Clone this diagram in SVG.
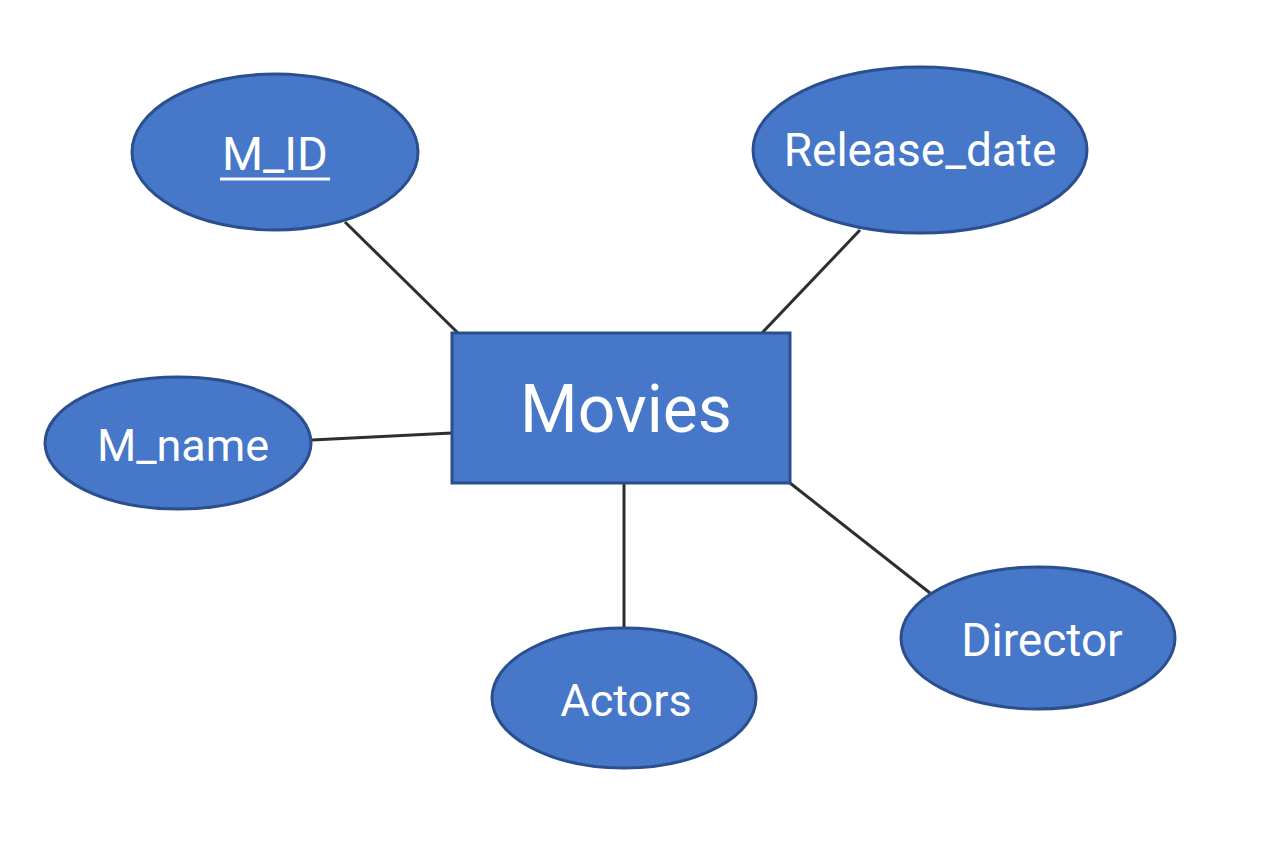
<svg xmlns="http://www.w3.org/2000/svg" width="1280" height="853" viewBox="0 0 1280 853">
<style>
.shape{fill:#4677c8;stroke:#2b4f8e;stroke-width:3}
.lbl{fill:#ffffff;font-family:Roboto,"Noto Sans",sans-serif;text-anchor:middle}
.conn line{stroke:#2a302c;stroke-width:3}
</style>
<rect width="1280" height="853" fill="#ffffff"/>
<g class="conn" id="connectors">
<line x1="345" y1="222" x2="458" y2="333"/>
<line x1="860" y1="230" x2="762" y2="333"/>
<line x1="312" y1="440" x2="452" y2="433"/>
<line x1="624" y1="483" x2="624" y2="628"/>
<line x1="790" y1="483" x2="930" y2="593"/>
</g>
<g id="movies">
<rect class="shape" x="452" y="333" width="338" height="150"/>
<text class="lbl" x="626" y="432" font-size="66">Movies</text>
</g>
<g id="m_id">
<ellipse class="shape" cx="275" cy="152" rx="143" ry="78"/>
<text class="lbl" x="275" y="170" font-size="47">M_ID</text>
<line x1="220" y1="179" x2="330" y2="179" stroke="#ffffff" stroke-width="3"/>
</g>
<g id="release_date">
<ellipse class="shape" cx="920" cy="150" rx="167" ry="83"/>
<text class="lbl" x="920" y="166" font-size="46">Release_date</text>
</g>
<g id="m_name">
<ellipse class="shape" cx="178" cy="443" rx="133" ry="66"/>
<text class="lbl" x="183" y="461" font-size="45">M_name</text>
</g>
<g id="actors">
<ellipse class="shape" cx="624" cy="698" rx="132" ry="70"/>
<text class="lbl" x="626" y="716" font-size="45">Actors</text>
</g>
<g id="director">
<ellipse class="shape" cx="1038" cy="638" rx="137" ry="71"/>
<text class="lbl" x="1042" y="656" font-size="46">Director</text>
</g>
</svg>
